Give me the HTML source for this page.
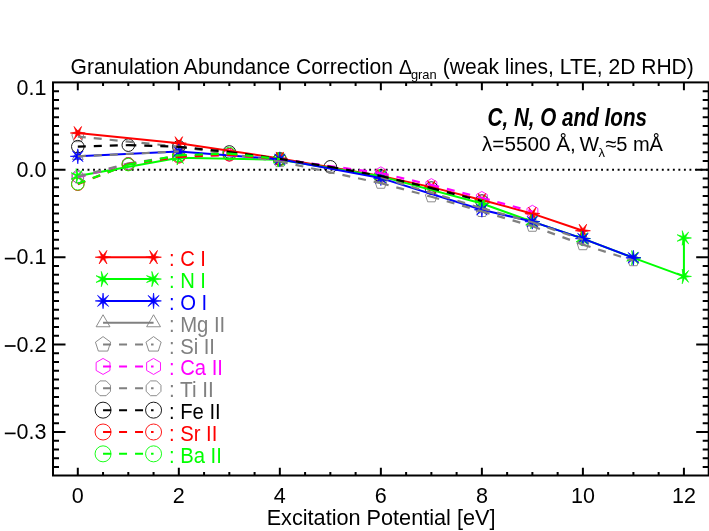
<!DOCTYPE html>
<html><head><meta charset="utf-8"><title>Granulation Abundance Correction</title>
<style>html,body{margin:0;padding:0;background:#fff}svg{display:block;will-change:transform}</style></head>
<body>
<svg width="709" height="531" viewBox="0 0 709 531">
<rect width="709" height="531" fill="#fff"/>
<line x1="76.5" y1="169.8" x2="708.7" y2="169.8" stroke="#000" stroke-width="1.9" stroke-dasharray="1.9 3.622"/>
<polygon points="77.80,150.04 72.34,159.49 83.26,159.49" stroke="#808080" stroke-width="0.9" fill="none"/>
<polygon points="178.82,145.15 173.36,154.60 184.28,154.60" stroke="#808080" stroke-width="0.9" fill="none"/>
<polygon points="279.84,153.01 274.38,162.46 285.30,162.46" stroke="#808080" stroke-width="0.9" fill="none"/>
<polygon points="380.86,171.02 375.40,180.47 386.32,180.47" stroke="#808080" stroke-width="0.9" fill="none"/>
<polygon points="481.88,201.96 476.42,211.41 487.34,211.41" stroke="#808080" stroke-width="0.9" fill="none"/>
<polygon points="532.39,215.94 526.93,225.39 537.85,225.39" stroke="#808080" stroke-width="0.9" fill="none"/>
<polygon points="582.90,233.42 577.44,242.87 588.36,242.87" stroke="#808080" stroke-width="0.9" fill="none"/>
<polygon points="77.80,130.29 71.81,134.64 74.10,141.68 81.50,141.68 83.79,134.64" stroke="#808080" stroke-width="0.9" fill="none"/>
<polygon points="178.82,140.34 172.83,144.69 175.12,151.74 182.52,151.74 184.81,144.69" stroke="#808080" stroke-width="0.9" fill="none"/>
<polygon points="279.84,155.20 273.85,159.55 276.14,166.59 283.54,166.59 285.83,159.55" stroke="#808080" stroke-width="0.9" fill="none"/>
<polygon points="380.86,176.87 374.87,181.23 377.16,188.27 384.56,188.27 386.85,181.23" stroke="#808080" stroke-width="0.9" fill="none"/>
<polygon points="431.37,190.42 425.38,194.77 427.67,201.82 435.07,201.82 437.36,194.77" stroke="#808080" stroke-width="0.9" fill="none"/>
<polygon points="481.88,205.10 475.89,209.46 478.18,216.50 485.58,216.50 487.87,209.46" stroke="#808080" stroke-width="0.9" fill="none"/>
<polygon points="532.39,219.87 526.40,224.23 528.69,231.27 536.09,231.27 538.38,224.23" stroke="#808080" stroke-width="0.9" fill="none"/>
<polygon points="582.90,238.31 576.91,242.67 579.20,249.71 586.60,249.71 588.89,242.67" stroke="#808080" stroke-width="0.9" fill="none"/>
<polygon points="633.41,254.31 627.42,258.66 629.71,265.71 637.11,265.71 639.40,258.66" stroke="#808080" stroke-width="0.9" fill="none"/>
<polygon points="77.80,170.93 72.34,174.08 72.34,180.38 77.80,183.53 83.26,180.38 83.26,174.08" stroke="#ff00ff" stroke-width="0.9" fill="none"/>
<polygon points="128.31,157.56 122.85,160.71 122.85,167.01 128.31,170.16 133.77,167.01 133.77,160.71" stroke="#ff00ff" stroke-width="0.9" fill="none"/>
<polygon points="178.82,150.39 173.36,153.54 173.36,159.84 178.82,162.99 184.28,159.84 184.28,153.54" stroke="#ff00ff" stroke-width="0.9" fill="none"/>
<polygon points="229.33,148.82 223.87,151.97 223.87,158.27 229.33,161.42 234.79,158.27 234.79,151.97" stroke="#ff00ff" stroke-width="0.9" fill="none"/>
<polygon points="279.84,152.84 274.38,155.99 274.38,162.29 279.84,165.44 285.30,162.29 285.30,155.99" stroke="#ff00ff" stroke-width="0.9" fill="none"/>
<polygon points="380.86,166.82 375.40,169.97 375.40,176.27 380.86,179.42 386.32,176.27 386.32,169.97" stroke="#ff00ff" stroke-width="0.9" fill="none"/>
<polygon points="431.37,178.62 425.91,181.77 425.91,188.07 431.37,191.22 436.83,188.07 436.83,181.77" stroke="#ff00ff" stroke-width="0.9" fill="none"/>
<polygon points="481.88,191.47 476.42,194.62 476.42,200.92 481.88,204.07 487.34,200.92 487.34,194.62" stroke="#ff00ff" stroke-width="0.9" fill="none"/>
<polygon points="532.39,205.28 526.93,208.43 526.93,214.73 532.39,217.88 537.85,214.73 537.85,208.43" stroke="#ff00ff" stroke-width="0.9" fill="none"/>
<polygon points="75.39,170.80 71.98,174.21 71.98,179.03 75.39,182.44 80.21,182.44 83.62,179.03 83.62,174.21 80.21,170.80" stroke="#808080" stroke-width="0.9" fill="none"/>
<polygon points="125.90,157.60 122.49,161.01 122.49,165.83 125.90,169.24 130.72,169.24 134.13,165.83 134.13,161.01 130.72,157.60" stroke="#808080" stroke-width="0.9" fill="none"/>
<polygon points="176.41,150.17 173.00,153.58 173.00,158.40 176.41,161.81 181.23,161.81 184.64,158.40 184.64,153.58 181.23,150.17" stroke="#808080" stroke-width="0.9" fill="none"/>
<polygon points="226.92,148.42 223.51,151.83 223.51,156.65 226.92,160.06 231.74,160.06 235.15,156.65 235.15,151.83 231.74,148.42" stroke="#808080" stroke-width="0.9" fill="none"/>
<polygon points="277.43,153.32 274.02,156.73 274.02,161.55 277.43,164.96 282.25,164.96 285.66,161.55 285.66,156.73 282.25,153.32" stroke="#808080" stroke-width="0.9" fill="none"/>
<circle cx="77.80" cy="146.64" r="6.3" stroke="#000000" stroke-width="0.9" fill="none"/>
<circle cx="128.31" cy="145.15" r="6.3" stroke="#000000" stroke-width="0.9" fill="none"/>
<circle cx="178.82" cy="146.81" r="6.3" stroke="#000000" stroke-width="0.9" fill="none"/>
<circle cx="229.33" cy="151.97" r="6.3" stroke="#000000" stroke-width="0.9" fill="none"/>
<circle cx="279.84" cy="158.96" r="6.3" stroke="#000000" stroke-width="0.9" fill="none"/>
<circle cx="330.35" cy="166.83" r="6.3" stroke="#000000" stroke-width="0.9" fill="none"/>
<circle cx="380.86" cy="176.01" r="6.3" stroke="#000000" stroke-width="0.9" fill="none"/>
<circle cx="431.37" cy="188.07" r="6.3" stroke="#000000" stroke-width="0.9" fill="none"/>
<circle cx="481.88" cy="201.09" r="6.3" stroke="#000000" stroke-width="0.9" fill="none"/>
<circle cx="77.80" cy="184.22" r="6.3" stroke="#ff0000" stroke-width="0.9" fill="none"/>
<circle cx="128.31" cy="164.21" r="6.3" stroke="#ff0000" stroke-width="0.9" fill="none"/>
<circle cx="178.82" cy="156.78" r="6.3" stroke="#ff0000" stroke-width="0.9" fill="none"/>
<circle cx="229.33" cy="154.77" r="6.3" stroke="#ff0000" stroke-width="0.9" fill="none"/>
<circle cx="279.84" cy="159.14" r="6.3" stroke="#ff0000" stroke-width="0.9" fill="none"/>
<circle cx="77.80" cy="183.78" r="6.3" stroke="#00ff00" stroke-width="0.9" fill="none"/>
<circle cx="128.31" cy="164.56" r="6.3" stroke="#00ff00" stroke-width="0.9" fill="none"/>
<circle cx="178.82" cy="155.29" r="6.3" stroke="#00ff00" stroke-width="0.9" fill="none"/>
<circle cx="229.33" cy="153.54" r="6.3" stroke="#00ff00" stroke-width="0.9" fill="none"/>
<circle cx="279.84" cy="159.14" r="6.3" stroke="#00ff00" stroke-width="0.9" fill="none"/>
<polyline points="77.80,133.00 178.82,143.14 279.84,158.44 380.86,175.92 431.37,187.11 481.88,199.95 532.39,213.67 582.90,230.72" fill="none" stroke="#ff0000" stroke-width="2.0" stroke-linejoin="round"/>
<polygon points="85.30,133.00 79.45,132.05 81.55,126.51 77.80,131.10 74.05,126.51 76.15,132.05 70.30,133.00 76.15,133.95 74.05,139.50 77.80,134.90 81.55,139.50 79.45,133.95" fill="#ff0000" stroke="#ff0000" stroke-width="0.7" stroke-linejoin="miter"/>
<polygon points="186.32,143.14 180.47,142.19 182.57,136.65 178.82,141.24 175.07,136.65 177.17,142.19 171.32,143.14 177.17,144.09 175.07,149.64 178.82,145.04 182.57,149.64 180.47,144.09" fill="#ff0000" stroke="#ff0000" stroke-width="0.7" stroke-linejoin="miter"/>
<polygon points="287.34,158.44 281.49,157.49 283.59,151.94 279.84,156.54 276.09,151.94 278.19,157.49 272.34,158.44 278.19,159.39 276.09,164.93 279.84,160.34 283.59,164.93 281.49,159.39" fill="#ff0000" stroke="#ff0000" stroke-width="0.7" stroke-linejoin="miter"/>
<polygon points="388.36,175.92 382.51,174.97 384.61,169.42 380.86,174.02 377.11,169.42 379.21,174.97 373.36,175.92 379.21,176.87 377.11,182.41 380.86,177.82 384.61,182.41 382.51,176.87" fill="#ff0000" stroke="#ff0000" stroke-width="0.7" stroke-linejoin="miter"/>
<polygon points="438.87,187.11 433.02,186.16 435.12,180.61 431.37,185.21 427.62,180.61 429.72,186.16 423.87,187.11 429.72,188.06 427.62,193.60 431.37,189.01 435.12,193.60 433.02,188.06" fill="#ff0000" stroke="#ff0000" stroke-width="0.7" stroke-linejoin="miter"/>
<polygon points="489.38,199.95 483.53,199.00 485.63,193.46 481.88,198.05 478.13,193.46 480.23,199.00 474.38,199.95 480.23,200.90 478.13,206.45 481.88,201.85 485.63,206.45 483.53,200.90" fill="#ff0000" stroke="#ff0000" stroke-width="0.7" stroke-linejoin="miter"/>
<polygon points="539.89,213.67 534.04,212.72 536.14,207.18 532.39,211.77 528.64,207.18 530.74,212.72 524.89,213.67 530.74,214.62 528.64,220.17 532.39,215.57 536.14,220.17 534.04,214.62" fill="#ff0000" stroke="#ff0000" stroke-width="0.7" stroke-linejoin="miter"/>
<polygon points="590.40,230.72 584.55,229.77 586.65,224.22 582.90,228.82 579.15,224.22 581.25,229.77 575.40,230.72 581.25,231.67 579.15,237.21 582.90,232.62 586.65,237.21 584.55,231.67" fill="#ff0000" stroke="#ff0000" stroke-width="0.7" stroke-linejoin="miter"/>
<polyline points="77.80,176.01 178.82,157.74 279.84,159.75 380.86,176.36 481.88,203.45 532.39,221.63 582.90,238.58 633.41,257.81 683.92,276.43 683.92,237.97" fill="none" stroke="#00ff00" stroke-width="2.0" stroke-linejoin="round"/>
<polygon points="85.30,176.01 79.51,175.18 82.48,170.14 78.22,174.15 76.13,168.69 76.62,174.52 71.04,172.75 75.90,176.01 71.04,179.26 76.62,177.49 76.13,183.32 78.22,177.86 82.48,181.87 79.51,176.83" fill="#00ff00" stroke="#00ff00" stroke-width="0.7" stroke-linejoin="miter"/>
<polygon points="186.32,157.74 180.53,156.91 183.50,151.88 179.24,155.89 177.15,150.43 177.64,156.25 172.06,154.48 176.92,157.74 172.06,160.99 177.64,159.22 177.15,165.05 179.24,159.59 183.50,163.60 180.53,158.56" fill="#00ff00" stroke="#00ff00" stroke-width="0.7" stroke-linejoin="miter"/>
<polygon points="287.34,159.75 281.55,158.92 284.52,153.89 280.26,157.90 278.17,152.44 278.66,158.26 273.08,156.49 277.94,159.75 273.08,163.00 278.66,161.23 278.17,167.06 280.26,161.60 284.52,165.61 281.55,160.57" fill="#00ff00" stroke="#00ff00" stroke-width="0.7" stroke-linejoin="miter"/>
<polygon points="388.36,176.36 382.57,175.53 385.54,170.49 381.28,174.50 379.19,169.04 379.68,174.87 374.10,173.10 378.96,176.36 374.10,179.61 379.68,177.84 379.19,183.67 381.28,178.21 385.54,182.22 382.57,177.18" fill="#00ff00" stroke="#00ff00" stroke-width="0.7" stroke-linejoin="miter"/>
<polygon points="489.38,203.45 483.59,202.62 486.56,197.59 482.30,201.60 480.21,196.14 480.70,201.96 475.12,200.19 479.98,203.45 475.12,206.70 480.70,204.93 480.21,210.76 482.30,205.30 486.56,209.31 483.59,204.27" fill="#00ff00" stroke="#00ff00" stroke-width="0.7" stroke-linejoin="miter"/>
<polygon points="539.89,221.63 534.10,220.80 537.07,215.76 532.81,219.78 530.72,214.32 531.21,220.14 525.63,218.37 530.49,221.63 525.63,224.88 531.21,223.11 530.72,228.94 532.81,223.48 537.07,227.49 534.10,222.45" fill="#00ff00" stroke="#00ff00" stroke-width="0.7" stroke-linejoin="miter"/>
<polygon points="590.40,238.58 584.61,237.76 587.58,232.72 583.32,236.73 581.23,231.27 581.72,237.10 576.14,235.33 581.00,238.58 576.14,241.84 581.72,240.07 581.23,245.90 583.32,240.44 587.58,244.45 584.61,239.41" fill="#00ff00" stroke="#00ff00" stroke-width="0.7" stroke-linejoin="miter"/>
<polygon points="640.91,257.81 635.12,256.99 638.09,251.95 633.83,255.96 631.74,250.50 632.23,256.33 626.65,254.56 631.51,257.81 626.65,261.07 632.23,259.30 631.74,265.12 633.83,259.66 638.09,263.68 635.12,258.64" fill="#00ff00" stroke="#00ff00" stroke-width="0.7" stroke-linejoin="miter"/>
<polygon points="691.42,276.43 685.63,275.60 688.60,270.56 684.34,274.58 682.25,269.12 682.74,274.94 677.16,273.17 682.02,276.43 677.16,279.68 682.74,277.91 682.25,283.74 684.34,278.28 688.60,282.29 685.63,277.25" fill="#00ff00" stroke="#00ff00" stroke-width="0.7" stroke-linejoin="miter"/>
<polygon points="691.42,237.97 685.63,237.15 688.60,232.11 684.34,236.12 682.25,230.66 682.74,236.49 677.16,234.72 682.02,237.97 677.16,241.23 682.74,239.46 682.25,245.28 684.34,239.82 688.60,243.84 685.63,238.80" fill="#00ff00" stroke="#00ff00" stroke-width="0.7" stroke-linejoin="miter"/>
<polyline points="77.80,156.34 178.82,151.45 279.84,159.31 380.86,178.10 481.88,209.74 532.39,221.63 582.90,238.58 633.41,257.81" fill="none" stroke="#0000ff" stroke-width="2.0" stroke-linejoin="round"/>
<polygon points="85.30,156.34 79.56,155.61 83.10,151.04 78.53,154.59 77.80,148.84 77.07,154.59 72.50,151.04 76.04,155.61 70.30,156.34 76.04,157.07 72.50,161.64 77.07,158.10 77.80,163.84 78.53,158.10 83.10,161.64 79.56,157.07" fill="#0000ff" stroke="#0000ff" stroke-width="0.7" stroke-linejoin="miter"/>
<polygon points="186.32,151.45 180.58,150.72 184.12,146.14 179.55,149.69 178.82,143.95 178.09,149.69 173.52,146.14 177.06,150.72 171.32,151.45 177.06,152.17 173.52,156.75 178.09,153.20 178.82,158.95 179.55,153.20 184.12,156.75 180.58,152.17" fill="#0000ff" stroke="#0000ff" stroke-width="0.7" stroke-linejoin="miter"/>
<polygon points="287.34,159.31 281.60,158.58 285.14,154.01 280.57,157.56 279.84,151.81 279.11,157.56 274.54,154.01 278.08,158.58 272.34,159.31 278.08,160.04 274.54,164.62 279.11,161.07 279.84,166.81 280.57,161.07 285.14,164.62 281.60,160.04" fill="#0000ff" stroke="#0000ff" stroke-width="0.7" stroke-linejoin="miter"/>
<polygon points="388.36,178.10 382.62,177.38 386.16,172.80 381.59,176.35 380.86,170.60 380.13,176.35 375.56,172.80 379.10,177.38 373.36,178.10 379.10,178.83 375.56,183.41 380.13,179.86 380.86,185.60 381.59,179.86 386.16,183.41 382.62,178.83" fill="#0000ff" stroke="#0000ff" stroke-width="0.7" stroke-linejoin="miter"/>
<polygon points="489.38,209.74 483.64,209.01 487.18,204.44 482.61,207.99 481.88,202.24 481.15,207.99 476.58,204.44 480.12,209.01 474.38,209.74 480.12,210.47 476.58,215.05 481.15,211.50 481.88,217.24 482.61,211.50 487.18,215.05 483.64,210.47" fill="#0000ff" stroke="#0000ff" stroke-width="0.7" stroke-linejoin="miter"/>
<polygon points="539.89,221.63 534.15,220.90 537.69,216.32 533.12,219.87 532.39,214.13 531.66,219.87 527.09,216.32 530.63,220.90 524.89,221.63 530.63,222.36 527.09,226.93 531.66,223.38 532.39,229.13 533.12,223.38 537.69,226.93 534.15,222.36" fill="#0000ff" stroke="#0000ff" stroke-width="0.7" stroke-linejoin="miter"/>
<polygon points="590.40,238.58 584.66,237.86 588.20,233.28 583.63,236.83 582.90,231.08 582.17,236.83 577.60,233.28 581.14,237.86 575.40,238.58 581.14,239.31 577.60,243.89 582.17,240.34 582.90,246.08 583.63,240.34 588.20,243.89 584.66,239.31" fill="#0000ff" stroke="#0000ff" stroke-width="0.7" stroke-linejoin="miter"/>
<polygon points="640.91,257.81 635.17,257.08 638.71,252.51 634.14,256.06 633.41,250.31 632.68,256.06 628.11,252.51 631.65,257.08 625.91,257.81 631.65,258.54 628.11,263.12 632.68,259.57 633.41,265.31 634.14,259.57 638.71,263.12 635.17,258.54" fill="#0000ff" stroke="#0000ff" stroke-width="0.7" stroke-linejoin="miter"/>
<path d="M77.80,156.34L178.82,151.45M380.86,177.32L481.88,208.26M481.88,208.26L532.39,222.24M532.39,222.24L582.90,239.72" fill="none" stroke="#808080" stroke-width="2.2" stroke-dasharray="8 8"/>
<path d="M77.80,136.59L178.82,146.64M178.82,146.64L279.84,161.50M279.84,161.50L380.86,183.17M380.86,183.17L431.37,196.72M431.37,196.72L481.88,211.40M481.88,211.40L532.39,226.17M532.39,226.17L582.90,244.61M582.90,244.61L633.41,260.61" fill="none" stroke="#808080" stroke-width="2.2" stroke-dasharray="8 8"/>
<path d="M77.80,177.23L128.31,163.86M128.31,163.86L178.82,156.69M178.82,156.69L229.33,155.12M229.33,155.12L279.84,159.14M279.84,159.14L380.86,173.12M380.86,173.12L431.37,184.92M431.37,184.92L481.88,197.77M481.88,197.77L532.39,211.58" fill="none" stroke="#ff00ff" stroke-width="2.2" stroke-dasharray="8 8"/>
<path d="M77.80,176.62L128.31,163.42M128.31,163.42L178.82,155.99M178.82,155.99L229.33,154.24M229.33,154.24L279.84,159.14" fill="none" stroke="#808080" stroke-width="2.2" stroke-dasharray="8 8"/>
<path d="M77.80,146.64L128.31,145.15M128.31,145.15L178.82,146.81M178.82,146.81L229.33,151.97M229.33,151.97L279.84,158.96M279.84,158.96L330.35,166.83M330.35,166.83L380.86,176.01M380.86,176.01L431.37,188.07M431.37,188.07L481.88,201.09" fill="none" stroke="#000000" stroke-width="2.2" stroke-dasharray="8 8"/>
<path d="M77.80,184.22L128.31,164.21M128.31,164.21L178.82,156.78M178.82,156.78L229.33,154.77M229.33,154.77L279.84,159.14" fill="none" stroke="#ff0000" stroke-width="2.2" stroke-dasharray="8 8"/>
<path d="M77.80,183.78L128.31,164.56M128.31,164.56L178.82,155.29M178.82,155.29L229.33,153.54M229.33,153.54L279.84,159.14" fill="none" stroke="#00ff00" stroke-width="2.2" stroke-dasharray="8 8"/>
<line x1="103.05" y1="257.20" x2="153.56" y2="257.20" stroke="#ff0000" stroke-width="2"/>
<polygon points="110.85,257.20 104.70,256.25 106.95,250.45 103.05,255.30 99.16,250.45 101.41,256.25 95.25,257.20 101.41,258.15 99.15,263.95 103.05,259.10 106.95,263.95 104.70,258.15" fill="#ff0000" stroke="#ff0000" stroke-width="0.7" stroke-linejoin="miter"/>
<polygon points="161.37,257.20 155.21,256.25 157.47,250.45 153.56,255.30 149.66,250.45 151.92,256.25 145.76,257.20 151.92,258.15 149.66,263.95 153.56,259.10 157.47,263.95 155.21,258.15" fill="#ff0000" stroke="#ff0000" stroke-width="0.7" stroke-linejoin="miter"/>
<text x="168.9" y="266.10" font-family="Liberation Sans, sans-serif" font-size="21.3" textLength="37.1" lengthAdjust="spacingAndGlyphs" fill="#ff0000">: C I</text>
<line x1="103.05" y1="279.05" x2="153.56" y2="279.05" stroke="#00ff00" stroke-width="2"/>
<polygon points="110.85,279.05 104.77,278.23 107.92,272.95 103.48,277.20 101.32,271.45 101.87,277.56 96.03,275.67 101.15,279.05 96.03,282.43 101.87,280.54 101.32,286.65 103.48,280.90 107.92,285.15 104.77,279.87" fill="#00ff00" stroke="#00ff00" stroke-width="0.7" stroke-linejoin="miter"/>
<polygon points="161.37,279.05 155.28,278.23 158.43,272.95 153.99,277.20 151.83,271.45 152.38,277.56 146.54,275.67 151.66,279.05 146.54,282.43 152.38,280.54 151.83,286.65 153.99,280.90 158.43,285.15 155.28,279.87" fill="#00ff00" stroke="#00ff00" stroke-width="0.7" stroke-linejoin="miter"/>
<text x="168.9" y="287.95" font-family="Liberation Sans, sans-serif" font-size="21.3" textLength="37.1" lengthAdjust="spacingAndGlyphs" fill="#00ff00">: N I</text>
<line x1="103.05" y1="300.90" x2="153.56" y2="300.90" stroke="#0000ff" stroke-width="2"/>
<polygon points="110.85,300.90 104.81,300.17 108.57,295.38 103.78,299.14 103.05,293.10 102.33,299.14 97.54,295.38 101.30,300.17 95.25,300.90 101.30,301.63 97.54,306.42 102.33,302.66 103.05,308.70 103.78,302.66 108.57,306.42 104.81,301.63" fill="#0000ff" stroke="#0000ff" stroke-width="0.7" stroke-linejoin="miter"/>
<polygon points="161.37,300.90 155.32,300.17 159.08,295.38 154.29,299.14 153.56,293.10 152.84,299.14 148.05,295.38 151.81,300.17 145.76,300.90 151.81,301.63 148.05,306.42 152.84,302.66 153.56,308.70 154.29,302.66 159.08,306.42 155.32,301.63" fill="#0000ff" stroke="#0000ff" stroke-width="0.7" stroke-linejoin="miter"/>
<text x="168.9" y="309.80" font-family="Liberation Sans, sans-serif" font-size="21.3" textLength="38.3" lengthAdjust="spacingAndGlyphs" fill="#0000ff">: O I</text>
<line x1="103.05" y1="322.75" x2="153.56" y2="322.75" stroke="#808080" stroke-width="2"/>
<polygon points="103.05,314.75 96.13,326.75 109.98,326.75" stroke="#808080" stroke-width="0.9" fill="none"/>
<polygon points="153.56,314.75 146.64,326.75 160.49,326.75" stroke="#808080" stroke-width="0.9" fill="none"/>
<text x="168.9" y="331.65" font-family="Liberation Sans, sans-serif" font-size="21.3" textLength="56.3" lengthAdjust="spacingAndGlyphs" fill="#808080">: Mg II</text>
<line x1="103.05" y1="344.60" x2="153.56" y2="344.60" stroke="#808080" stroke-width="2" stroke-dasharray="8 8"/>
<polygon points="103.05,336.60 95.45,342.13 98.35,351.07 107.76,351.07 110.66,342.13" stroke="#808080" stroke-width="0.9" fill="none"/>
<polygon points="153.56,336.60 145.96,342.13 148.86,351.07 158.27,351.07 161.17,342.13" stroke="#808080" stroke-width="0.9" fill="none"/>
<text x="168.9" y="353.50" font-family="Liberation Sans, sans-serif" font-size="21.3" textLength="46.1" lengthAdjust="spacingAndGlyphs" fill="#808080">: Si II</text>
<line x1="103.05" y1="366.45" x2="153.56" y2="366.45" stroke="#ff00ff" stroke-width="2" stroke-dasharray="8 8"/>
<polygon points="103.05,358.45 96.13,362.45 96.13,370.45 103.05,374.45 109.98,370.45 109.98,362.45" stroke="#ff00ff" stroke-width="0.9" fill="none"/>
<polygon points="153.56,358.45 146.64,362.45 146.64,370.45 153.56,374.45 160.49,370.45 160.49,362.45" stroke="#ff00ff" stroke-width="0.9" fill="none"/>
<text x="168.9" y="375.35" font-family="Liberation Sans, sans-serif" font-size="21.3" textLength="54.0" lengthAdjust="spacingAndGlyphs" fill="#ff00ff">: Ca II</text>
<line x1="103.05" y1="388.30" x2="153.56" y2="388.30" stroke="#808080" stroke-width="2" stroke-dasharray="8 8"/>
<polygon points="99.99,380.91 95.66,385.24 95.66,391.36 99.99,395.69 106.12,395.69 110.45,391.36 110.45,385.24 106.12,380.91" stroke="#808080" stroke-width="0.9" fill="none"/>
<polygon points="150.50,380.91 146.17,385.24 146.17,391.36 150.50,395.69 156.63,395.69 160.96,391.36 160.96,385.24 156.63,380.91" stroke="#808080" stroke-width="0.9" fill="none"/>
<text x="168.9" y="397.20" font-family="Liberation Sans, sans-serif" font-size="21.3" textLength="45.0" lengthAdjust="spacingAndGlyphs" fill="#808080">: Ti II</text>
<line x1="103.05" y1="410.15" x2="153.56" y2="410.15" stroke="#000000" stroke-width="2" stroke-dasharray="8 8"/>
<circle cx="103.05" cy="410.15" r="8.0" stroke="#000000" stroke-width="0.9" fill="none"/>
<circle cx="153.56" cy="410.15" r="8.0" stroke="#000000" stroke-width="0.9" fill="none"/>
<text x="168.9" y="419.05" font-family="Liberation Sans, sans-serif" font-size="21.3" textLength="51.8" lengthAdjust="spacingAndGlyphs" fill="#000000">: Fe II</text>
<line x1="103.05" y1="432.00" x2="153.56" y2="432.00" stroke="#ff0000" stroke-width="2" stroke-dasharray="8 8"/>
<circle cx="103.05" cy="432.00" r="8.0" stroke="#ff0000" stroke-width="0.9" fill="none"/>
<circle cx="153.56" cy="432.00" r="8.0" stroke="#ff0000" stroke-width="0.9" fill="none"/>
<text x="168.9" y="440.90" font-family="Liberation Sans, sans-serif" font-size="21.3" textLength="48.4" lengthAdjust="spacingAndGlyphs" fill="#ff0000">: Sr II</text>
<line x1="103.05" y1="453.85" x2="153.56" y2="453.85" stroke="#00ff00" stroke-width="2" stroke-dasharray="8 8"/>
<circle cx="103.05" cy="453.85" r="8.0" stroke="#00ff00" stroke-width="0.9" fill="none"/>
<circle cx="153.56" cy="453.85" r="8.0" stroke="#00ff00" stroke-width="0.9" fill="none"/>
<text x="168.9" y="462.75" font-family="Liberation Sans, sans-serif" font-size="21.3" textLength="52.9" lengthAdjust="spacingAndGlyphs" fill="#00ff00">: Ba II</text>
<rect x="53.0" y="82.4" width="655.7" height="393.1" fill="none" stroke="#000" stroke-width="2.0"/>
<path d="M77.80,475.5v-7.8M77.80,82.4v7.8M103.05,475.5v-3.6M103.05,82.4v3.6M128.31,475.5v-3.6M128.31,82.4v3.6M153.56,475.5v-3.6M153.56,82.4v3.6M178.82,475.5v-7.8M178.82,82.4v7.8M204.07,475.5v-3.6M204.07,82.4v3.6M229.33,475.5v-3.6M229.33,82.4v3.6M254.58,475.5v-3.6M254.58,82.4v3.6M279.84,475.5v-7.8M279.84,82.4v7.8M305.09,475.5v-3.6M305.09,82.4v3.6M330.35,475.5v-3.6M330.35,82.4v3.6M355.61,475.5v-3.6M355.61,82.4v3.6M380.86,475.5v-7.8M380.86,82.4v7.8M406.12,475.5v-3.6M406.12,82.4v3.6M431.37,475.5v-3.6M431.37,82.4v3.6M456.62,475.5v-3.6M456.62,82.4v3.6M481.88,475.5v-7.8M481.88,82.4v7.8M507.13,475.5v-3.6M507.13,82.4v3.6M532.39,475.5v-3.6M532.39,82.4v3.6M557.64,475.5v-3.6M557.64,82.4v3.6M582.90,475.5v-7.8M582.90,82.4v7.8M608.15,475.5v-3.6M608.15,82.4v3.6M633.41,475.5v-3.6M633.41,82.4v3.6M658.66,475.5v-3.6M658.66,82.4v3.6M683.92,475.5v-7.8M683.92,82.4v7.8M53.0,466.96h6.0M708.7,466.96h-6.0M53.0,458.22h6.0M708.7,458.22h-6.0M53.0,449.48h6.0M708.7,449.48h-6.0M53.0,440.74h6.0M708.7,440.74h-6.0M53.0,432.00h12.5M708.7,432.00h-12.5M53.0,423.26h6.0M708.7,423.26h-6.0M53.0,414.52h6.0M708.7,414.52h-6.0M53.0,405.78h6.0M708.7,405.78h-6.0M53.0,397.04h6.0M708.7,397.04h-6.0M53.0,388.30h6.0M708.7,388.30h-6.0M53.0,379.56h6.0M708.7,379.56h-6.0M53.0,370.82h6.0M708.7,370.82h-6.0M53.0,362.08h6.0M708.7,362.08h-6.0M53.0,353.34h6.0M708.7,353.34h-6.0M53.0,344.60h12.5M708.7,344.60h-12.5M53.0,335.86h6.0M708.7,335.86h-6.0M53.0,327.12h6.0M708.7,327.12h-6.0M53.0,318.38h6.0M708.7,318.38h-6.0M53.0,309.64h6.0M708.7,309.64h-6.0M53.0,300.90h6.0M708.7,300.90h-6.0M53.0,292.16h6.0M708.7,292.16h-6.0M53.0,283.42h6.0M708.7,283.42h-6.0M53.0,274.68h6.0M708.7,274.68h-6.0M53.0,265.94h6.0M708.7,265.94h-6.0M53.0,257.20h12.5M708.7,257.20h-12.5M53.0,248.46h6.0M708.7,248.46h-6.0M53.0,239.72h6.0M708.7,239.72h-6.0M53.0,230.98h6.0M708.7,230.98h-6.0M53.0,222.24h6.0M708.7,222.24h-6.0M53.0,213.50h6.0M708.7,213.50h-6.0M53.0,204.76h6.0M708.7,204.76h-6.0M53.0,196.02h6.0M708.7,196.02h-6.0M53.0,187.28h6.0M708.7,187.28h-6.0M53.0,178.54h6.0M708.7,178.54h-6.0M53.0,169.80h12.5M708.7,169.80h-12.5M53.0,161.06h6.0M708.7,161.06h-6.0M53.0,152.32h6.0M708.7,152.32h-6.0M53.0,143.58h6.0M708.7,143.58h-6.0M53.0,134.84h6.0M708.7,134.84h-6.0M53.0,126.10h6.0M708.7,126.10h-6.0M53.0,117.36h6.0M708.7,117.36h-6.0M53.0,108.62h6.0M708.7,108.62h-6.0M53.0,99.88h6.0M708.7,99.88h-6.0M53.0,91.14h6.0M708.7,91.14h-6.0" stroke="#000" stroke-width="2.0" fill="none"/>
<text x="77.80" y="502.8" font-family="Liberation Sans, sans-serif" font-size="22.8" text-anchor="middle" textLength="12.0" lengthAdjust="spacingAndGlyphs">0</text>
<text x="178.82" y="502.8" font-family="Liberation Sans, sans-serif" font-size="22.8" text-anchor="middle" textLength="12.0" lengthAdjust="spacingAndGlyphs">2</text>
<text x="279.84" y="502.8" font-family="Liberation Sans, sans-serif" font-size="22.8" text-anchor="middle" textLength="12.0" lengthAdjust="spacingAndGlyphs">4</text>
<text x="380.86" y="502.8" font-family="Liberation Sans, sans-serif" font-size="22.8" text-anchor="middle" textLength="12.0" lengthAdjust="spacingAndGlyphs">6</text>
<text x="481.88" y="502.8" font-family="Liberation Sans, sans-serif" font-size="22.8" text-anchor="middle" textLength="12.0" lengthAdjust="spacingAndGlyphs">8</text>
<text x="582.90" y="502.8" font-family="Liberation Sans, sans-serif" font-size="22.8" text-anchor="middle" textLength="23.9" lengthAdjust="spacingAndGlyphs">10</text>
<text x="683.92" y="502.8" font-family="Liberation Sans, sans-serif" font-size="22.8" text-anchor="middle" textLength="23.9" lengthAdjust="spacingAndGlyphs">12</text>
<text x="46.5" y="95.10" font-family="Liberation Sans, sans-serif" font-size="22.8" text-anchor="end" textLength="29.9" lengthAdjust="spacingAndGlyphs">0.1</text>
<text x="46.5" y="176.70" font-family="Liberation Sans, sans-serif" font-size="22.8" text-anchor="end" textLength="29.9" lengthAdjust="spacingAndGlyphs">0.0</text>
<text x="46.5" y="264.10" font-family="Liberation Sans, sans-serif" font-size="22.8" text-anchor="end" textLength="29.9" lengthAdjust="spacingAndGlyphs">0.1</text>
<line x1="4.8" y1="258.60" x2="15.6" y2="258.60" stroke="#000" stroke-width="1.7"/>
<text x="46.5" y="351.50" font-family="Liberation Sans, sans-serif" font-size="22.8" text-anchor="end" textLength="29.9" lengthAdjust="spacingAndGlyphs">0.2</text>
<line x1="4.8" y1="346.00" x2="15.6" y2="346.00" stroke="#000" stroke-width="1.7"/>
<text x="46.5" y="438.90" font-family="Liberation Sans, sans-serif" font-size="22.8" text-anchor="end" textLength="29.9" lengthAdjust="spacingAndGlyphs">0.3</text>
<line x1="4.8" y1="433.40" x2="15.6" y2="433.40" stroke="#000" stroke-width="1.7"/>
<text x="381.05" y="525.4" font-family="Liberation Sans, sans-serif" font-size="22.2" text-anchor="middle" textLength="228.8" lengthAdjust="spacingAndGlyphs">Excitation Potential [eV]</text>
<text x="70.6" y="73.7" font-family="Liberation Sans, sans-serif" font-size="21.7" textLength="322.3" lengthAdjust="spacingAndGlyphs">Granulation Abundance Correction</text>
<text x="398.9" y="73.6" font-family="Liberation Sans, sans-serif" font-size="21.0" textLength="13.0" lengthAdjust="spacingAndGlyphs">Δ</text>
<text x="410.9" y="78.8" font-family="Liberation Sans, sans-serif" font-size="12.9">gran</text>
<text x="442.8" y="73.7" font-family="Liberation Sans, sans-serif" font-size="21.7" textLength="251.0" lengthAdjust="spacingAndGlyphs">(weak lines, LTE, 2D RHD)</text>
<text x="487.5" y="126.1" font-family="Liberation Sans, sans-serif" font-size="25.4" font-weight="bold" font-style="italic" textLength="159.5" lengthAdjust="spacingAndGlyphs">C, N, O and Ions</text>
<text x="482" y="151.3" font-family="Liberation Sans, sans-serif" font-size="20.7">λ=5500 Å,</text>
<text x="579.4" y="151.3" font-family="Liberation Sans, sans-serif" font-size="20.7">W</text>
<text x="598.6" y="157.0" font-family="Liberation Sans, sans-serif" font-size="12.9">λ</text>
<text x="605.2" y="151.3" font-family="Liberation Sans, sans-serif" font-size="20.7" textLength="57.8" lengthAdjust="spacingAndGlyphs">≈5 mÅ</text>
</svg>
</body></html>
